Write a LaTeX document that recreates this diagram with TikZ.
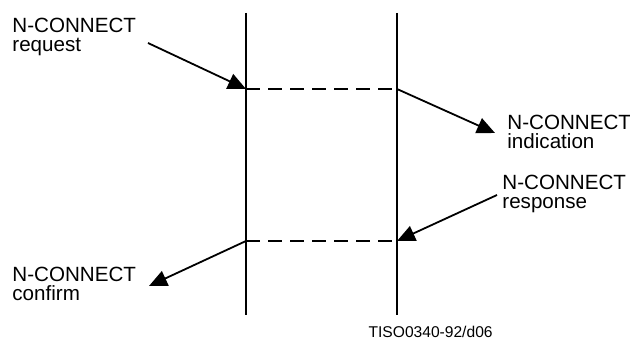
\documentclass[tikz,border=0pt]{standalone}
\usepackage{fontspec}
\setmainfont{Liberation Sans}
\usetikzlibrary{arrows.meta}

\begin{document}
\begin{tikzpicture}[x=0.5pt,y=-0.5pt,
  primitive/.style={font=\fontsize{10.3}{9.5}\selectfont,align=left,
    anchor=north west,inner sep=0pt},
  msg/.style={line width=0.9pt,-{Triangle[length=9pt,width=8pt]}},
  station/.style={line width=1.2pt},
  pdu/.style={line width=1pt,dash pattern=on 7pt off 4pt}]
  \useasboundingbox (0,0) rectangle (630,340);
  % the two time lines
  \coordinate (ltop) at (246,13);
  \coordinate (lbot) at (246,315);
  \coordinate (rtop) at (397,13);
  \coordinate (rbot) at (397,315);
  \draw[station] (ltop) -- (lbot);
  \draw[station] (rtop) -- (rbot);
  % exchange between the stations
  \coordinate (lreq) at (246,89);
  \coordinate (rind) at (397,89);
  \coordinate (rrsp) at (397,241);
  \coordinate (lcnf) at (246,241);
  \draw[pdu] (lreq) -- (rind);
  \draw[pdu] (lcnf) -- (rrsp);
  % primitives
  \node[primitive] (req) at (12,18) {N-CONNECT\\request};
  \node[primitive] (ind) at (507,115) {N-CONNECT\\indication};
  \node[primitive] (rsp) at (502,175) {N-CONNECT\\response};
  \node[primitive] (cnf) at (12,267) {N-CONNECT\\confirm};
  \coordinate (reqtail) at (148,43);
  \coordinate (indtip) at (495,133);
  \coordinate (rsptail) at (497,195);
  \coordinate (cnftip) at (149,286);
  \draw[msg] (reqtail) -- (lreq);
  \draw[msg] (rind) -- (indtip);
  \draw[msg] (rsptail) -- (rrsp);
  \draw[msg] (lcnf) -- (cnftip);
  \node[font=\fontsize{7.8}{9}\selectfont,anchor=base east,inner sep=0pt]
    (fig) at (493,338) {TISO0340-92/d06};
\end{tikzpicture}
\end{document}
